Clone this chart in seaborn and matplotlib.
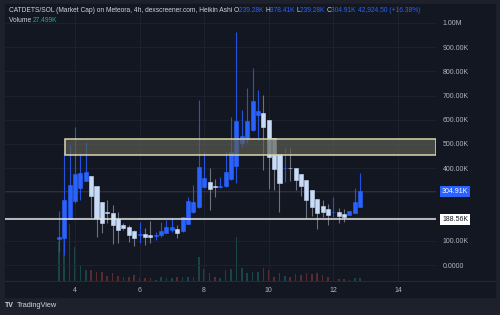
import numpy as np
import pandas as pd
import matplotlib
matplotlib.use("Agg")
import matplotlib.pyplot as plt
import matplotlib.transforms as mtransforms
from matplotlib.patches import Rectangle
from matplotlib.ticker import FuncFormatter
import seaborn as sns

# Heikin Ashi candles, 4h, prices in K (market cap)
opens = [109.5, 113.6, 192, 262.4, 318, 349, 365.7, 326.4, 260, 217,
         215, 190, 167, 159, 140.5, 126, 127, 122, 120, 122,
         132, 144.6, 150, 141.7, 169.4, 217.8, 239.7, 322, 341, 326.4,
         324, 326.4, 355, 411, 503, 518.6, 558, 617.7, 628, 599,
         523.5, 459.5, 398.7, 400.8, 399.6, 376, 351, 310, 274, 243.8,
         230.6, 218.6, 219.4, 211.6, 205.8, 215, 239.28]
closes = [115.7, 268.6, 330.6, 376, 380, 384, 285, 194, 173.5, 215,
          165, 144.6, 153, 124, 111.6, 128, 117, 115.7, 124, 140.5,
          157, 157, 133.5, 198, 265.7, 261.6, 405, 360.7, 312.8, 322.3,
          327.7, 385.5, 467, 595, 533, 596, 677.6, 637.6, 571.5, 447.5,
          395.4, 337.6, 402, 398.7, 351, 327.7, 268.6, 238.4, 213.6, 217.8,
          206.6, 220, 203.7, 200.4, 224.4, 261.6, 304.91]
highs = [223, 468, 496, 571, 461.6, 509.5, 366, 326.4, 260, 268.6,
         248, 220, 173.5, 165, 144.6, 179, 153, 183, 137.6, 179,
         186, 194, 165, 199.6, 282, 330.6, 682, 468, 400.8, 355,
         365, 468, 611.5, 961.5, 640, 731, 815, 723, 702, 599,
         523.5, 459.5, 483.4, 483.4, 399.6, 376, 351, 310, 274, 268.6,
         252, 282, 234, 230, 224.4, 317, 378.41]
lows = [53.7, 41.3, 190, 255, 268.6, 347, 199.6, 117, 132, 173.5,
        86.8, 91, 144.6, 96, 78.5, 89.7, 82.6, 89.7, 103, 117,
        132, 137.6, 111.6, 137.6, 169.4, 215, 235.5, 318, 227, 281,
        318, 322, 351, 337.6, 489, 504, 553.7, 516.5, 392.5, 314,
        310, 220, 344, 347, 310, 285, 194, 202.5, 148.8, 199.6,
        165, 199.6, 173.5, 179, 205.8, 215, 239.28]
volumes = [330, 420, 480, 283, 133, 92, 92, 77, 77, 42,
           67, 42, 36, 36, 50, 25, 27, 25, 8, 31,
           27, 27, 31, 36, 31, 36, 197, 97, 69, 31,
           27, 92, 97, 369, 108, 69, 77, 77, 106, 92,
           36, 69, 42, 31, 56, 50, 64, 56, 64, 50,
           36, 36, 14, 14, 8, 27, 27.5]

first_candle_day = 3.5          # day of month of the first candle
support_level = 188.56          # K
last_price = 304.91             # K
zone_low, zone_high, zone_start = 454.5, 520.7, 3.69
x_ticks = [4, 6, 8, 10, 12, 14]
y_ticks = [0, 100, 200, 300, 400, 500, 600, 700, 800, 900, 1000]
hidden_y_labels = [200, 300]    # covered by the price tags

title_main = "CATDETS/SOL (Market Cap) on Meteora, 4h, dexscreener.com, Heikin Ashi"
ohlc_text = [("O", "239.28K"), ("H", "378.41K"), ("L", "239.28K"), ("C", "304.91K")]
change_text = "42,924.50 (+16.38%)"
volume_text = "27.499K"

df = pd.DataFrame({"open": opens, "close": closes, "high": highs,
                   "low": lows, "volume": volumes})
df["t"] = first_candle_day + np.arange(len(df)) / 6  # 4h candles
df["dir"] = np.where(df["close"] >= df["open"], "up", "down")

BG_OUT = "#1e212b"
BG = "#131722"
GRID = "#1f2330"
TXT = "#b2b5be"
UP = "#2962ff"
DOWN = "#c9dcf7"
FS = 5.0
FS_HEAD = 4.75

sns.set_theme(style="dark")
plt.rcParams["font.family"] = ["Liberation Sans", "DejaVu Sans"]

fig = plt.figure(figsize=(5, 3.15), dpi=100, facecolor=BG_OUT)
W, H = 500, 315
fig.patches.append(Rectangle((5 / W, 1 - 297 / H), 490 / W, 293 / H,
                             transform=fig.transFigure, color=BG, zorder=-10))
ax = fig.add_axes([5 / W, 1 - 281 / H, 431 / W, 276 / H])
ax.set_facecolor("none")

# volume on its own scale at the bottom
vax = ax.twinx()
sns.histplot(data=df, x="t", weights="volume", hue="dir",
             binwidth=1 / 6, binrange=(df["t"].min() - 1 / 12, df["t"].max() + 1 / 12),
             shrink=0.3, palette={"up": "#26a69a", "down": "#ef5350"},
             alpha=0.32, linewidth=0, legend=False, ax=vax)
vax.set_ylim(0, 2310)
vax.set_axis_off()
ax.set_zorder(vax.get_zorder() + 1)

# wicks and bodies
wick_cols = np.where(df["dir"] == "up", "#2452e0", "#6f727d")
ax.vlines(df["t"], df["low"], df["high"], colors=wick_cols, linewidth=0.8, zorder=3)
body_cols = np.where(df["dir"] == "up", UP, DOWN)
ax.bar(df["t"], df["close"] - df["open"], bottom=df["open"], width=0.125,
       color=body_cols, edgecolor=body_cols, linewidth=0.4, zorder=4)

# zone box
ax.add_patch(Rectangle((zone_start, zone_low), 15.18 - zone_start, zone_high - zone_low,
                       facecolor="#5e5f54", alpha=0.68, edgecolor="none", zorder=5))
ax.add_patch(Rectangle((zone_start, zone_low), 15.18 - zone_start, zone_high - zone_low,
                       facecolor="none", edgecolor="#d9d6aa", linewidth=1.1, zorder=6))

# support and last price lines
ax.axhline(support_level, color="#e6e6e6", linewidth=1.1, zorder=6)
ax.axhline(last_price, color=UP, linewidth=0.6, alpha=0.4, zorder=2)

ax.set_xlim(1.833, 15.18)
ax.set_ylim(-66, 1074)
ax.set_xticks(x_ticks)
ax.set_xticklabels([str(v) for v in x_ticks])
ax.set_yticks(y_ticks)


def price_fmt(v, p):
    if v in hidden_y_labels:
        return ""
    if v >= 1000:
        return f"{v / 1000:.2f}M"
    return "0.0000" if v == 0 else f"{v:.2f}K"


ax.yaxis.set_major_formatter(FuncFormatter(price_fmt))
ax.yaxis.tick_right()
ax.tick_params(axis="y", length=0, pad=5, labelsize=FS, labelcolor=TXT)
ax.tick_params(axis="x", length=0, pad=4, labelsize=FS, labelcolor=TXT)
ax.grid(True, color=GRID, linewidth=0.6)
for s in ax.spines.values():
    s.set_visible(False)
fig.add_artist(plt.Line2D([5 / W, 495 / W], [1 - 281 / H] * 2,
                          transform=fig.transFigure, color="#2a2e39", linewidth=0.6))

# price labels on the scale
tr = mtransforms.blended_transform_factory(ax.transAxes, ax.transData)
ax.text(1.014, last_price, f"{last_price:.2f}K", transform=tr, fontsize=FS, color="white",
        va="center", ha="left", clip_on=False, zorder=10,
        bbox=dict(boxstyle="square,pad=0.3", facecolor=UP, edgecolor="none"))
ax.text(1.014, support_level, f"{support_level:.2f}K", transform=tr, fontsize=FS,
        color="#131722", va="center", ha="left", clip_on=False, zorder=10,
        bbox=dict(boxstyle="square,pad=0.3", facecolor="white", edgecolor="none"))

# header rows
renderer = fig.canvas.get_renderer()


def put_row(pieces, x, y):
    for s, c in pieces:
        t = fig.text(x, y, s, color=c, fontsize=FS_HEAD, va="center", ha="left")
        x += t.get_window_extent(renderer).width / fig.bbox.width


row1 = [(title_main + " ", "#d1d4dc")]
for k, v in ohlc_text:
    row1 += [(k, "#d1d4dc"), (v + " ", UP)]
row1 += [(change_text, UP)]
put_row(row1, 9 / W, 1 - 10 / H)
put_row([("Volume ", "#d1d4dc"), (volume_text, "#26a69a")], 9 / W, 1 - 20 / H)

fig.text(5 / W, 1 - 305.5 / H, "TV", fontsize=5, fontweight="bold", color="#d1d4dc", va="center")
fig.text(17 / W, 1 - 305.5 / H, "TradingView", fontsize=FS + 0.3, color="#d1d4dc", va="center")

fig.savefig("out.png", dpi=100, facecolor=BG_OUT)
